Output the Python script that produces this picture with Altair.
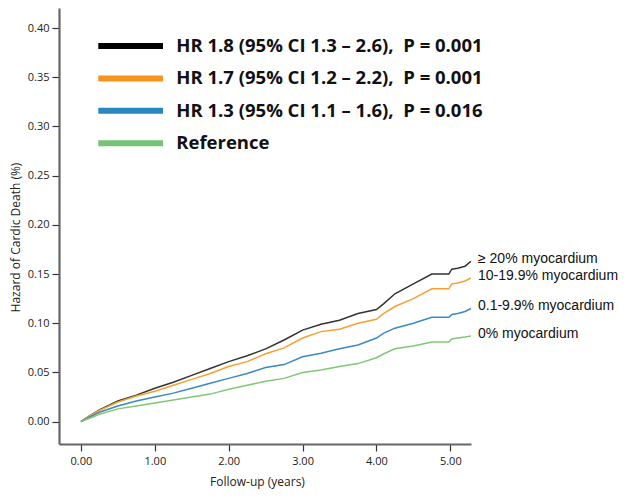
import altair as alt
import pandas as pd

# ---- data ----
times = [0.0, 0.1, 0.25, 0.5, 0.75, 1.0, 1.25, 1.5, 1.75, 2.0, 2.25, 2.5, 2.75,
         3.0, 3.25, 3.5, 3.75, 4.0, 4.1, 4.25, 4.5, 4.75, 4.98, 5.02, 5.1, 5.2, 5.28]
hz_20 = [0.0, 0.005, 0.012, 0.021, 0.027, 0.034, 0.040, 0.047, 0.054, 0.061, 0.067, 0.074, 0.083,
         0.093, 0.099, 0.103, 0.110, 0.114, 0.120, 0.130, 0.140, 0.150, 0.150, 0.155, 0.156, 0.158, 0.163]
hz_10 = [0.0, 0.005, 0.0115, 0.020, 0.026, 0.031, 0.037, 0.043, 0.049, 0.056, 0.061, 0.069, 0.075,
         0.085, 0.0915, 0.094, 0.100, 0.104, 0.110, 0.117, 0.125, 0.135, 0.135, 0.140, 0.141, 0.143, 0.146]
hz_01 = [0.0, 0.004, 0.0095, 0.016, 0.021, 0.025, 0.029, 0.034, 0.039, 0.044, 0.049, 0.055, 0.058,
         0.066, 0.0695, 0.074, 0.078, 0.085, 0.090, 0.095, 0.100, 0.106, 0.106, 0.109, 0.110, 0.112, 0.115]
hz_00 = [0.0, 0.003, 0.0075, 0.013, 0.016, 0.019, 0.022, 0.025, 0.028, 0.033, 0.037, 0.041, 0.044,
         0.050, 0.0525, 0.056, 0.059, 0.065, 0.069, 0.074, 0.077, 0.081, 0.081, 0.084, 0.085, 0.086, 0.087]

series_names = ["\u2265 20% myocardium", "10-19.9% myocardium", "0.1-9.9% myocardium", "0% myocardium"]
series_values = [hz_20, hz_10, hz_01, hz_00]
line_colors = ["#333333", "#f6a030", "#3a89c2", "#80c874"]

legend_labels = [
    "HR 1.8 (95% CI 1.3 \u2013 2.6),\u00a0 P = 0.001",
    "HR 1.7 (95% CI 1.2 \u2013 2.2),\u00a0 P = 0.001",
    "HR 1.3 (95% CI 1.1 \u2013 1.6),\u00a0 P = 0.016",
    "Reference",
]
legend_colors = ["#000000", "#f7941d", "#2a86bf", "#74c476"]

x_ticks = [0, 1, 2, 3, 4, 5]
y_ticks = [0.0, 0.05, 0.10, 0.15, 0.20, 0.25, 0.30, 0.35, 0.40]

# ---- tables ----
rows = []
for name, vals in zip(series_names, series_values):
    for t, v in zip(times, vals):
        rows.append({"t": t, "v": v, "series": name})
df = pd.DataFrame(rows)
df_end = pd.DataFrame({"t": [times[-1]] * 4,
                       "v": [vals[-1] for vals in series_values],
                       "series": series_names})
df_leg = pd.DataFrame({"label": legend_labels})

x_scale = alt.Scale(domain=[-0.297, 5.28], nice=False, zero=False)
y_scale = alt.Scale(domain=[-0.0227, 0.4204], nice=False, zero=False)
col_scale = alt.Scale(domain=series_names, range=line_colors)

lines = alt.Chart(df).mark_line(strokeWidth=1.5).encode(
    x=alt.X("t:Q", scale=x_scale,
            axis=alt.Axis(values=x_ticks, format=".2f", title="Follow-up (years)",
                          labelPadding=4, titleX=198, titleY=37, titleBaseline="middle")),
    y=alt.Y("v:Q", scale=y_scale,
            axis=alt.Axis(values=y_ticks, format=".2f", title="Hazard of Cardic Death (%)",
                          labelPadding=3, titleX=-44, titleY=229, titleAngle=270,
                          titleBaseline="middle")),
    color=alt.Color("series:N", scale=col_scale, legend=None),
)

end_labels = alt.Chart(df_end).mark_text(
    align="left", baseline="middle", dx=7, dy=-2.5,
    font="Liberation Sans", fontSize=14, color="#111111"
).encode(
    x=alt.X("t:Q", scale=x_scale),
    y=alt.Y("v:Q", scale=y_scale),
    text="series:N",
)

main = alt.layer(lines, end_labels)

leg_y = alt.Y("label:N", sort=legend_labels,
              scale=alt.Scale(type="point", range=[38, 135.3], padding=0), axis=None)
leg_lines = alt.Chart(df_leg).mark_rule(strokeWidth=6).encode(
    x=alt.value(39.3), x2=alt.value(104),
    y=leg_y,
    color=alt.Color("label:N", scale=alt.Scale(domain=legend_labels, range=legend_colors), legend=None),
)
leg_text = alt.Chart(df_leg).mark_text(
    align="left", baseline="middle", font="Open Sans", fontWeight="bold", fontSize=18.5, color="#111111"
).encode(
    x=alt.value(117.3),
    y=leg_y,
    text="label:N",
)
legend = alt.layer(leg_lines, leg_text)

chart = alt.layer(main, legend).resolve_scale(y="independent", color="independent").properties(
    width=412, height=436,
    autosize=alt.AutoSizeParams(type="none"),
    padding={"left": 51, "top": 0, "right": 150, "bottom": 45},
).configure_view(stroke=None).configure_axis(
    grid=False, domainColor="#666666", domainWidth=2.2, tickColor="#333333", tickWidth=1.2,
    tickSize=7, labelFont="Open Sans", labelFontSize=11, labelColor="#222222",
    titleFont="Open Sans", titleFontSize=12, titleFontWeight="normal", titleColor="#222222",
)

chart.save("out.html", embed_options={"renderer": "svg", "actions": False})
